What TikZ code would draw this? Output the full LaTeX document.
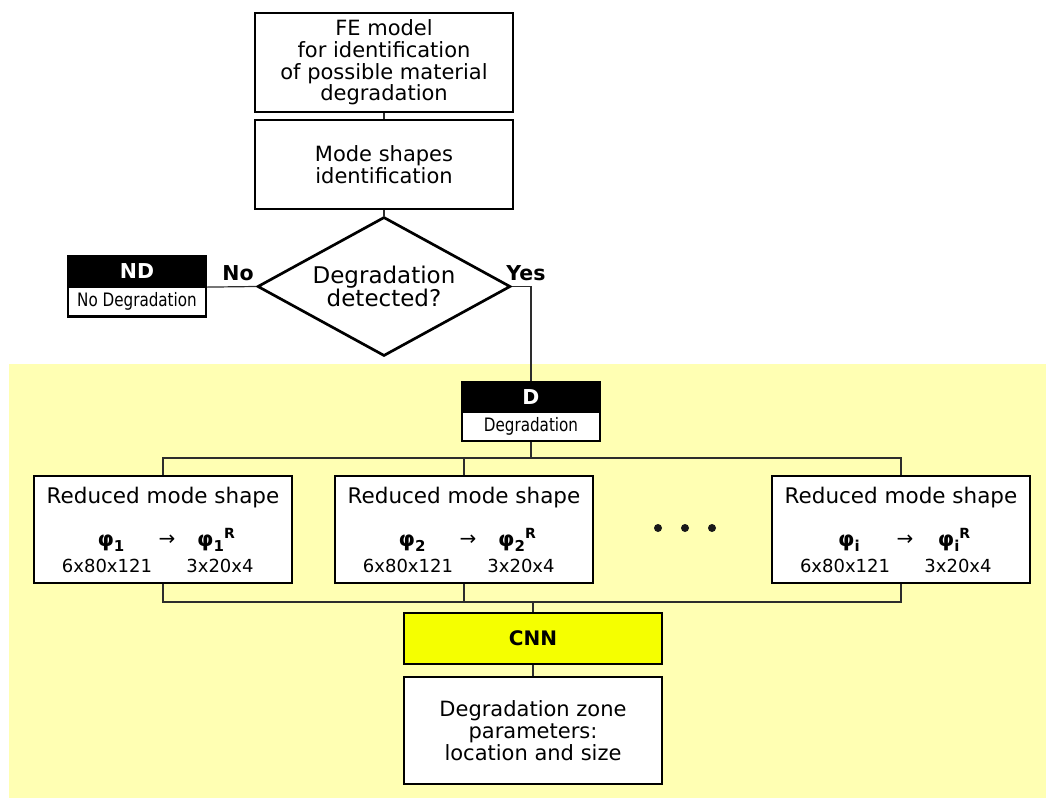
\documentclass[tikz,border=0pt]{standalone}
\usepackage{fontspec}
\setmainfont{DejaVu Sans}
\newfontfamily\narrowsans[FakeStretch=0.82]{DejaVu Sans}
\usetikzlibrary{shapes.geometric,positioning,calc}
\definecolor{zoneyellow}{RGB}{255,255,179}
\definecolor{cnnyellow}{RGB}{245,255,0}
\definecolor{wiregray}{RGB}{45,45,45}

% mode shape symbol with index and optional mark
\newcommand{\modevec}[2]{φ\raisebox{-5pt}{\fontsize{15}{15}\selectfont #1}#2}
\newcommand{\redmark}{\raisebox{8pt}{\fontsize{14}{14}\selectfont R}}

\tikzset{
  box/.style={draw=black, line width=2.9pt, fill=white, inner sep=0pt,
    align=center, font=\fontsize{21}{21.7}\selectfont},
  tagbox/.style={draw=black, line width=2.2pt, inner sep=0pt,
    minimum width=138pt},
  tagtop/.style={tagbox, fill=black, text=white, minimum height=30pt,
    font=\fontsize{20.5}{22}\selectfont\bfseries},
  tagtext/.style={tagbox, fill=white, minimum height=30pt,
    font=\narrowsans\fontsize{18.5}{20}\selectfont},
  wire/.style={draw=wiregray, line width=1.2pt},
  answer/.style={font=\fontsize{20.5}{22}\selectfont\bfseries},
  phi/.style={inner sep=0pt, anchor=base, font=\fontsize{21}{22}\selectfont\bfseries},
  dims/.style={inner sep=0pt, anchor=base, font=\fontsize{18}{20}\selectfont}
}

\begin{document}
\begin{tikzpicture}[x=1pt,y=-1pt]
  \useasboundingbox (0,0) rectangle (1046,798);

  % shaded zone for the degradation branch
  \fill[zoneyellow] (9,364) rectangle (1046,798);

  % upper part of the chart
  \node[box, minimum width=258pt, minimum height=99pt] (fe) at (384,62.5)
    {FE model\\for identification\\of possible material\\degradation};
  \node[box, minimum width=258pt, minimum height=89pt] (modes) at (384,164.5)
    {Mode shapes\\identification};
  \node[draw=black, line width=2.7pt, fill=white, diamond, aspect=1.8,
    inner sep=0pt, minimum width=253pt, minimum height=139pt, align=center,
    font=\fontsize{23}{22}\selectfont] (detect) at (384,286.5)
    {Degradation\\detected?};

  \node[tagtop] (ndhead) at (137,271) {ND};
  \node[tagtext] (ndtext) at (137,301.5) {No Degradation};
  \node[answer] (no) at (238,273) {No};
  \node[answer] (yes) at (526,273) {Yes};

  \node[tagtop] (dhead) at (531,397) {D};
  \node[tagtext, minimum height=29pt] (dtext) at (531,426.5) {Degradation};

  % reduced mode shapes
  \foreach \cx/\k [count=\n] in {163/1, 464/2, 901/i} {
    \node[box, minimum width=258pt, minimum height=107pt] (red\n) at (\cx,529.5) {};
    \node[inner sep=0pt, anchor=base, font=\fontsize{21.5}{22}\selectfont]
      (title\n) at (\cx,503) {Reduced mode shape};
    \node[phi] (phiin\n) at (\cx-52,546) {\modevec{\k}{}};
    \node[phi, font=\fontsize{20}{22}\selectfont] (arrow\n) at (\cx+4,545) {→};
    \node[phi] (phiout\n) at (\cx+53,546) {\modevec{\k}{\redmark}};
    \node[dims] (dimin\n) at (\cx-56,572) {6x80x121};
    \node[dims] (dimout\n) at (\cx+57,572) {3x20x4};
  }
  \foreach \dx in {658,685,712}
    \fill[black!90] (\dx,528) circle (4);

  \node[box, fill=cnnyellow, minimum width=258pt, minimum height=51pt,
    font=\fontsize{20}{22}\selectfont\bfseries] (cnn) at (533,638.5) {CNN};
  \node[box, minimum width=258pt, minimum height=107pt] (result) at (533,730.5)
    {Degradation zone\\parameters:\\location and size};

  % connectors
  \coordinate (topbus) at (531,458);
  \coordinate (botbus) at (533,602);
  \draw[wire] (fe.south) -- (modes.north);
  \draw[wire] (modes.south) -- (detect.north);
  \draw[wire] (ndhead.south east) -- (detect.west);
  \draw[wire] (detect.east) -| (dhead.north);
  \draw[wire] (dtext.south) -- (topbus);
  \draw[wire] (red1.north) |- (topbus) -| (red3.north);
  \draw[wire] (red2.north) -- (red2.north |- topbus);
  \draw[wire] (red1.south) |- (botbus) -| (red3.south);
  \draw[wire] (red2.south) -- (red2.south |- botbus);
  \draw[wire] (botbus) -- (cnn.north);
  \draw[wire] (cnn.south) -- (result.north);
\end{tikzpicture}
\end{document}
